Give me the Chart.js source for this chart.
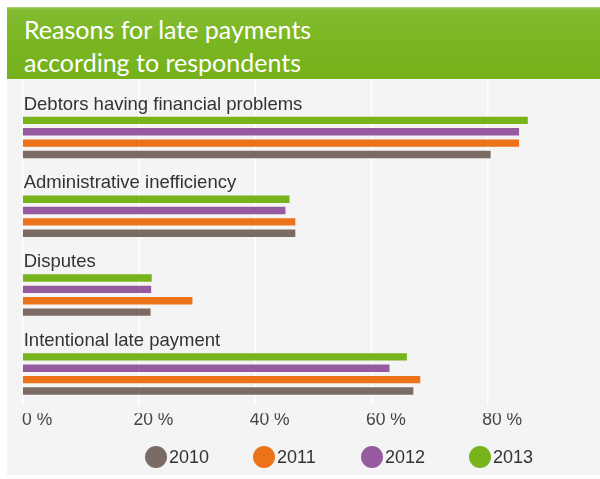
<!DOCTYPE html>
<html>
<head>
<meta charset="utf-8">
<title>Reasons for late payments</title>
<script src="https://cdn.jsdelivr.net/npm/chart.js@4.4.0/dist/chart.umd.min.js"></script>
<style>
  html, body { margin: 0; padding: 0; background: #fff; }
  #wrap { position: relative; width: 600px; height: 479px; overflow: hidden; }
  #panel { position: absolute; left: 7px; top: 7px; right: 0; height: 468px; background: #f4f4f4; }
  #header {
    position: absolute; left: 7px; top: 7px; right: 0; height: 72px;
    background: linear-gradient(#b0d47f 0px, #84bc33 2px, #7ab621 36px, #74b11b 100%);
  }
  #title {
    position: absolute; left: 24px; top: 13.4px; margin: 0;
    font: 25px/32.4px Lato, "Open Sans", sans-serif; color: #fff; font-weight: normal;
  }
  #chart { position: absolute; left: 0; top: 0; }
  #legend {
    position: absolute; left: 145px; top: 446px; display: flex;
    font: 18px "Liberation Sans", Arial, sans-serif; color: #333;
  }
  .item { width: 108px; height: 22px; display: flex; align-items: center; }
  .dot { width: 22px; height: 22px; border-radius: 50%; margin-right: 2px; flex: none; }
</style>
</head>
<body>
<div id="wrap">
  <div id="panel"></div>
  <div id="header"></div>
  <h1 id="title">Reasons for late payments<br>according to respondents</h1>
  <canvas id="chart" width="600" height="479"></canvas>
  <div id="legend"></div>
</div>
<script>
// survey answers, share of respondents in %
const categories = [
  'Debtors having financial problems',
  'Administrative inefficiency',
  'Disputes',
  'Intentional late payment'
];
const years = ['2010', '2011', '2012', '2013'];
const colors = ['#7a6b64', '#ec7319', '#965b9e', '#77b41c'];

const values2010 = [80.5, 46.9, 22.0, 67.2];
const values2011 = [85.4, 46.9, 29.2, 68.4];
const values2012 = [85.4, 45.2, 22.1, 63.1];
const values2013 = [86.9, 45.9, 22.2, 66.1];

const xTicks = [0, 20, 40, 60, 80];

const series = [values2010, values2011, values2012, values2013];

// newest year sits on top of each group
const datasets = years.map((year, i) => ({
  label: year,
  data: series[i],
  backgroundColor: colors[i],
  borderWidth: 0
})).reverse();

// white column lines run from the green header down to just above the
// axis labels, painted first so the text stays on top of them
const columnLines = {
  id: 'columnLines',
  beforeDraw(chart) {
    const { ctx, chartArea, scales: { x } } = chart;
    ctx.save();
    ctx.strokeStyle = '#ffffff';
    ctx.lineWidth = 1.5;
    x.ticks.forEach(t => {
      const px = x.getPixelForValue(t.value);
      ctx.beginPath();
      ctx.moveTo(px, 79);
      ctx.lineTo(px, chartArea.bottom - 8);
      ctx.stroke();
    });
    ctx.restore();
  }
};

new Chart(document.getElementById('chart'), {
  type: 'bar',
  data: { labels: categories, datasets: datasets },
  plugins: [columnLines],
  options: {
    indexAxis: 'y',
    responsive: false,
    animation: false,
    devicePixelRatio: 1,
    layout: { padding: { left: 20.7, right: 65.8, top: 98, bottom: 51.5 } },
    plugins: {
      legend: { display: false },
      tooltip: { enabled: false }
    },
    datasets: {
      bar: { categoryPercentage: 0.577, barPercentage: 0.65 }
    },
    scales: {
      x: {
        min: 0,
        max: 88,
        grid: { display: false, drawTicks: false },
        border: { display: false },
        afterBuildTicks: scale => { scale.ticks = xTicks.map(v => ({ value: v })); },
        ticks: {
          padding: -3.4,
          labelOffset: 14.5,
          color: '#444',
          font: { family: '"Liberation Sans", Arial, sans-serif', size: 17.5 },
          callback: v => v + ' %'
        }
      },
      y: {
        grid: { display: false, drawTicks: false },
        border: { display: false },
        ticks: {
          mirror: true,
          padding: 1,
          labelOffset: -33,
          color: '#333',
          font: { family: '"Liberation Sans", Arial, sans-serif', size: 18.5 }
        }
      }
    }
  }
});

// legend row, oldest year first
const legend = document.getElementById('legend');
years.forEach((year, i) => {
  const item = document.createElement('div');
  item.className = 'item';
  const dot = document.createElement('span');
  dot.className = 'dot';
  dot.style.background = colors[i];
  const label = document.createElement('span');
  label.textContent = year;
  item.appendChild(dot);
  item.appendChild(label);
  legend.appendChild(item);
});
</script>
</body>
</html>
